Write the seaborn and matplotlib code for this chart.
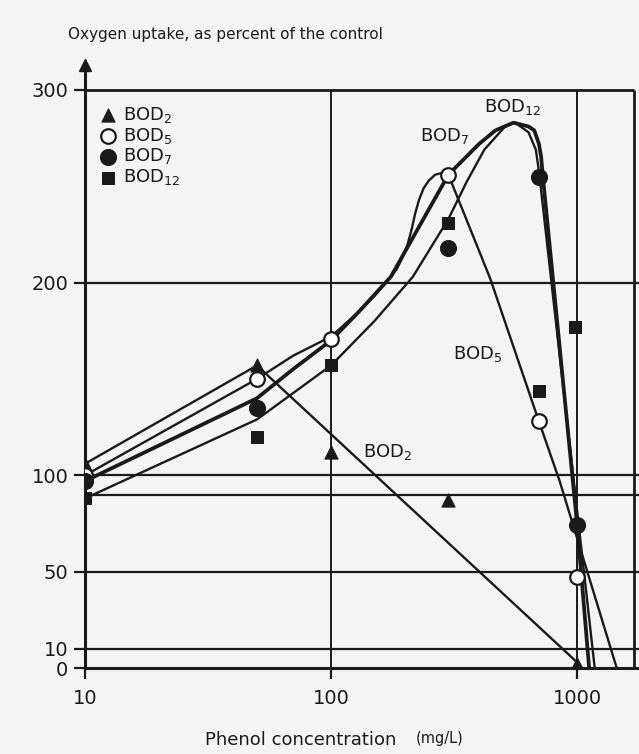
import matplotlib
matplotlib.use("Agg")
import matplotlib.pyplot as plt
import seaborn as sns
import numpy as np

# measured points (phenol mg/L, % of control)
bod2_x = [10, 50, 100, 300, 1000]
bod2_y = [106, 157, 112, 87, 2]
bod5_x = [10, 50, 100, 300, 700, 1000]
bod5_y = [100, 150, 171, 256, 128, 47]
bod7_x = [10, 50, 300, 700, 1000]
bod7_y = [97, 135, 218, 255, 74]
bod12_x = [10, 50, 100, 300, 700, 980]
bod12_y = [88, 120, 157, 231, 144, 177]

# hand drawn curves
c2_x = [10, 50, 1000]
c2_y = [106, 157, 3]
c5_x = [10, 50, 70, 100, 130, 150, 175, 185, 195, 205, 213, 220, 228, 238,
        250, 265, 285, 300, 444, 700, 850, 1450]
c5_y = [100, 150, 162, 172, 185, 193, 203, 207, 213, 220, 228, 236, 243, 249,
        253, 256, 257, 256, 202, 128, 97, 0]
c7_x = [10, 50, 70, 100, 130, 175, 300, 400, 466, 552, 635, 670, 700, 715,
        725, 1000, 1120]
c7_y = [97, 140, 155, 170, 185, 203, 256, 272, 279, 283, 281, 279, 272, 265,
        256, 75, 0]
c12_x = [10, 50, 100, 150, 215, 300, 355, 420, 510, 560, 635, 680, 700, 1000, 1180]
c12_y = [88, 129, 157, 180, 203, 233, 252, 269, 281, 283, 278, 269, 258, 82, 0]

ytick_vals = [0, 10, 50, 100, 200, 300]
xtick_vals = [10, 100, 1000]
hgrid = [10, 50, 90, 100, 200]
vgrid = [100, 1000]

sns.set_theme(style="white")
plt.rcParams["font.family"] = ["DejaVu Sans"]
plt.rcParams["mathtext.default"] = "regular"
plt.rcParams["text.color"] = "black"
bg = "#f4f4f4"

fig = plt.figure(figsize=(6.39, 7.54), dpi=100, facecolor=bg)
ax = fig.add_axes([0.133, 0.114, 0.867, 0.800])
ax.set_facecolor(bg)

# grid / frame lines
for v in hgrid:
    ax.axhline(v, color="k", lw=1.6, zorder=1)
ax.hlines(300, 10, 1700, color="k", lw=2, zorder=1)
for v in vgrid:
    ax.vlines(v, 0, 300, color="k", lw=1.4, zorder=1)
ax.vlines(1700, 0, 300, color="k", lw=2, zorder=1)

# curves
sns.lineplot(x=c2_x, y=c2_y, sort=False, estimator=None, color="k", lw=1.7, ax=ax)
sns.lineplot(x=c5_x, y=c5_y, sort=False, estimator=None, color="k", lw=1.7, ax=ax)
sns.lineplot(x=c7_x, y=c7_y, sort=False, estimator=None, color="k", lw=2.7, ax=ax)
sns.lineplot(x=c12_x, y=c12_y, sort=False, estimator=None, color="k", lw=1.7, ax=ax)

# markers
sns.scatterplot(x=bod2_x, y=bod2_y, marker="^", s=90, color="k", edgecolor="k",
                label="BOD$_2$", zorder=5, ax=ax)
sns.scatterplot(x=bod5_x, y=bod5_y, marker="o", s=110, facecolor="white", edgecolor="k",
                linewidth=1.6, label="BOD$_5$", zorder=5, ax=ax)
sns.scatterplot(x=bod7_x, y=bod7_y, marker="o", s=130, color="k", edgecolor="k",
                label="BOD$_7$", zorder=5, ax=ax)
sns.scatterplot(x=bod12_x, y=bod12_y, marker="s", s=80, color="k", edgecolor="k",
                label="BOD$_{12}$", zorder=5, ax=ax)

ax.set_xscale("log")
ax.set_xlim(10, 1786)
ax.set_ylim(0, 313)
ax.set_xticks(xtick_vals)
ax.set_xticklabels([str(v) for v in xtick_vals])
ax.set_xticks([], minor=True)
ax.set_yticks(ytick_vals)
ax.set_yticklabels([str(v) for v in ytick_vals])
ax.tick_params(axis="both", which="major", direction="out", length=8, width=1.6,
               color="k", labelsize=14, labelcolor="k", bottom=True, left=True)
ax.tick_params(axis="x", pad=7)
ax.tick_params(axis="y", pad=4)

for side in ["top", "right"]:
    ax.spines[side].set_visible(False)
for side in ["left", "bottom"]:
    ax.spines[side].set_color("k")
    ax.spines[side].set_linewidth(2.2)

# arrow at top of y axis
ax.plot([10], [313], marker="^", color="k", markersize=9, clip_on=False, zorder=6)

# curve labels
ax.text(420, 291, "BOD$_{12}$", fontsize=13, va="center", ha="left", color="k")
ax.text(229, 276, "BOD$_7$", fontsize=13, va="center", ha="left", color="k")
ax.text(313, 163, "BOD$_5$", fontsize=13, va="center", ha="left", color="k")
ax.text(135, 112, "BOD$_2$", fontsize=13, va="center", ha="left", color="k")

leg = ax.legend(loc="upper left", bbox_to_anchor=(0.0, 0.955), frameon=False,
                fontsize=13, handletextpad=0.2, labelspacing=0.05,
                handlelength=1.2, borderaxespad=0.3)
for t in leg.get_texts():
    t.set_color("k")

fig.text(68 / 639, 1 - 34 / 754, "Oxygen uptake, as percent of the control",
         fontsize=11, va="center", ha="left", color="k")
fig.text(205 / 639, 1 - 740 / 754, "Phenol concentration", fontsize=13,
         va="center", ha="left", color="k")
fig.text(416 / 639, 1 - 738 / 754, "(mg/L)", fontsize=10.5, va="center", ha="left",
         color="k")

fig.savefig("out.png", dpi=100, facecolor=bg)
